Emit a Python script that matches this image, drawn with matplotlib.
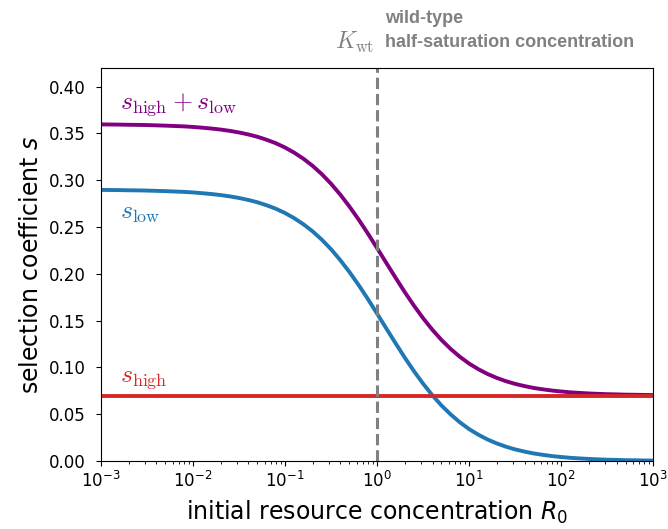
import numpy as np
import matplotlib
matplotlib.use("Agg")
import matplotlib.pyplot as plt

# initial resource concentrations, as log10 values (10^-3 .. 10^3)
log_R0 = [-3.0, -2.9, -2.8, -2.7, -2.6, -2.5, -2.4, -2.3, -2.2, -2.1,
          -2.0, -1.9, -1.8, -1.7, -1.6, -1.5, -1.4, -1.3, -1.2, -1.1,
          -1.0, -0.9, -0.8, -0.7, -0.6, -0.5, -0.4, -0.3, -0.2, -0.1,
          0.0, 0.1, 0.2, 0.3, 0.4, 0.5, 0.6, 0.7, 0.8, 0.9,
          1.0, 1.1, 1.2, 1.3, 1.4, 1.5, 1.6, 1.7, 1.8, 1.9,
          2.0, 2.1, 2.2, 2.3, 2.4, 2.5, 2.6, 2.7, 2.8, 2.9, 3.0]

# selection coefficient from the low-resource phase
s_low = [0.2897, 0.2896, 0.2895, 0.2893, 0.2892, 0.2890, 0.2887, 0.2884,
         0.2880, 0.2876, 0.2870, 0.2862, 0.2853, 0.2842, 0.2828, 0.2811,
         0.2790, 0.2765, 0.2733, 0.2696, 0.2650, 0.2595, 0.2530, 0.2454,
         0.2365, 0.2263, 0.2147, 0.2019, 0.1880, 0.1731, 0.1575, 0.1417,
         0.1260, 0.1106, 0.0961, 0.0826, 0.0703, 0.0593, 0.0497, 0.0413,
         0.0341, 0.0281, 0.0230, 0.0188, 0.0153, 0.0124, 0.0101, 0.0081,
         0.0066, 0.0053, 0.0043, 0.0034, 0.0028, 0.0022, 0.0018, 0.0014,
         0.0012, 0.0009, 0.0008, 0.0006, 0.0005]

# selection coefficient from the high-resource phase (constant)
s_high_value = 0.07

# wild-type half-saturation concentration
K_wt = 1.0

y_ticks = [0.00, 0.05, 0.10, 0.15, 0.20, 0.25, 0.30, 0.35, 0.40]

R0 = 10.0 ** np.array(log_R0)
s_low_arr = np.array(s_low)
s_high_arr = np.full_like(s_low_arr, s_high_value)
s_total = s_high_arr + s_low_arr

fig = plt.figure(figsize=(6.68, 5.29), dpi=100)
ax = fig.add_axes([0.151, 0.1285, 0.827, 0.743])

purple = "#800080"
blue = "#1f77b4"
red = "#d62728"
grey = "#808080"

ax.plot(R0, s_total, color=purple, lw=2.8, solid_capstyle="butt")
ax.plot(R0, s_low_arr, color=blue, lw=2.8, solid_capstyle="butt")
ax.plot(R0, s_high_arr, color=red, lw=2.8, solid_capstyle="butt")
ax.axvline(K_wt, color=grey, lw=2.2, ls="--")

ax.set_xscale("log")
ax.set_xlim(1e-3, 1e3)
ax.set_ylim(0, 0.42)
ax.set_yticks(y_ticks)
ax.set_yticklabels([f"{v:.2f}" for v in y_ticks])
ax.tick_params(labelsize=12)
ax.tick_params(axis="y", pad=7.5)

ax.set_xlabel("initial resource concentration $R_0$", fontsize=17, labelpad=6)
ax.set_ylabel("selection coefficient $s$", fontsize=17)

ax.text(1.6e-3, 0.381, r"$s_\mathrm{high} + s_\mathrm{low}$", color=purple,
        fontsize=18.5, math_fontfamily="cm", va="center")
ax.text(1.6e-3, 0.266, r"$s_\mathrm{low}$", color=blue,
        fontsize=18.5, math_fontfamily="cm", va="center")
ax.text(1.6e-3, 0.089, r"$s_\mathrm{high}$", color=red,
        fontsize=18.5, math_fontfamily="cm", va="center")

ax.text(0.495, 1.066, r"$K_\mathrm{wt}$", color=grey, fontsize=17,
        math_fontfamily="cm", ha="right", va="center",
        transform=ax.transAxes)
ax.text(0.5145, 1.127, "wild-type", color=grey,
        fontsize=13, fontweight="bold", family="Liberation Sans",
        ha="left", va="center", transform=ax.transAxes)
ax.text(0.5145, 1.066, "half-saturation concentration", color=grey,
        fontsize=13, fontweight="bold", family="Liberation Sans",
        ha="left", va="center", transform=ax.transAxes)

fig.savefig("out.png", dpi=100)
